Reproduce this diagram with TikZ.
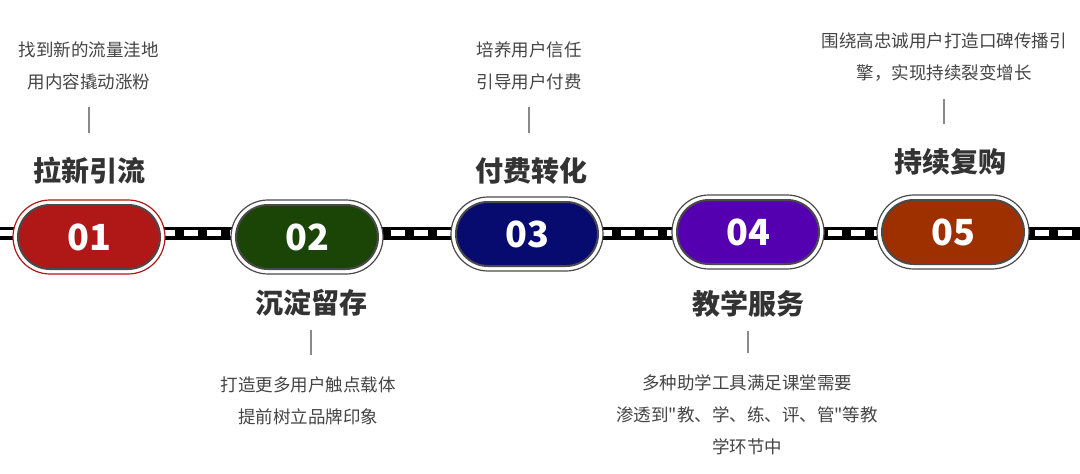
\documentclass[tikz,border=0pt]{standalone}
\usepackage{fontspec}
\newfontfamily\cjk{Noto Sans CJK SC}
\usepackage{tikz}
\definecolor{stepA}{HTML}{B01717}
\definecolor{stepB}{HTML}{1A4506}
\definecolor{stepC}{HTML}{070A6E}
\definecolor{stepD}{HTML}{5500B0}
\definecolor{stepE}{HTML}{9E3000}
\definecolor{ringgray}{HTML}{4A4A4A}
\definecolor{titlegray}{HTML}{333333}
\definecolor{descgray}{HTML}{444444}
\definecolor{stemgray}{HTML}{8A8A8A}

\begin{document}
\begin{tikzpicture}[x=1pt,y=-1pt,
  ring/.style={draw=#1,fill=white,line width=1.2pt,rounded corners=37pt,
    minimum width=152pt,minimum height=74pt},
  pill/.style={fill=#1,draw=ringgray,line width=2pt,rounded corners=32pt,
    minimum width=142pt,minimum height=64pt,inner sep=0pt,text=white,
    font=\cjk\bfseries\fontsize{36}{36}\selectfont},
  steptitle/.style={inner sep=0pt,text=titlegray,font=\cjk\bfseries\fontsize{28}{28}\selectfont},
  stepdesc/.style={inner sep=0pt,text=descgray,align=center,font=\cjk\fontsize{17.5}{32}\selectfont},
  stemup/.style={draw=stemgray,line width=1.2pt,shorten <=17pt,shorten >=24pt},
  stemdown/.style={draw=stemgray,line width=1.2pt,shorten <=13pt,shorten >=22pt}]
  \useasboundingbox (0,0) rectangle (1080,474);
  \draw[line width=13pt] (0,233) -- (1080,233);
  \draw[white,line width=6pt,dash pattern=on 14pt off 9pt] (0,233) -- (1080,233);

  \node[ring=stepA] (r1) at (89,237) {};
  \node[pill=stepA] (p1) at (r1) {01};
  \node[ring=ringgray] (r2) at (307,237) {};
  \node[pill=stepB] (p2) at (r2) {02};
  \node[ring=ringgray] (r3) at (527,234) {};
  \node[pill=stepC] (p3) at (r3) {03};
  \node[ring=ringgray] (r4) at (748,232) {};
  \node[pill=stepD] (p4) at (r4) {04};
  \node[ring=ringgray] (r5) at (953,232) {};
  \node[pill=stepE] (p5) at (r5) {05};

  \node[steptitle] (h1) at (90,171) {拉新引流};
  \node[steptitle] (h2) at (311,303) {沉淀留存};
  \node[steptitle] (h3) at (531,171) {付费转化};
  \node[steptitle] (h4) at (748,304) {教学服务};
  \node[steptitle] (h5) at (950,162) {持续复购};

  \node[stepdesc] (d1) at (89,66) {找到新的流量洼地\\用内容撬动涨粉};
  \node[stepdesc] (d2) at (308,401) {打造更多用户触点载体\\提前树立品牌印象};
  \node[stepdesc] (d3) at (529,66) {培养用户信任\\引导用户付费};
  \node[stepdesc] (d4) at (747,415) {多种助学工具满足课堂需要\\渗透到"教、学、练、评、管"等教\\学环节中};
  \node[stepdesc] (d5) at (944,57.5) {围绕高忠诚用户打造口碑传播引\\擎，实现持续裂变增长};

  \draw[stemup] (d1.south) -- (d1.south |- h1.north);
  \draw[stemup] (d3.south) -- (d3.south |- h3.north);
  \draw[stemup] (d5.south) -- (d5.south |- h5.north);
  \draw[stemdown] (h2.south) -- (h2.south |- d2.north);
  \draw[stemdown] (h4.south) -- (h4.south |- d4.north);
\end{tikzpicture}
\end{document}
